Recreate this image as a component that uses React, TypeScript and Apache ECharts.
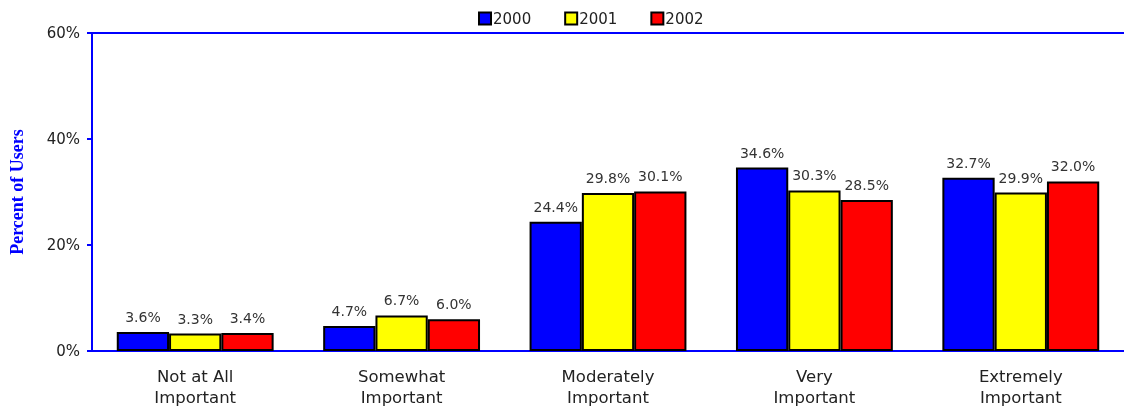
import React, { useEffect, useRef } from "react";
import * as echarts from "echarts";

const categories = ["Not at All\nImportant", "Somewhat\nImportant", "Moderately\nImportant", "Very\nImportant", "Extremely\nImportant"];
const seriesNames = ["2000", "2001", "2002"];
const values2000 = [3.6, 4.7, 24.4, 34.6, 32.7];
const values2001 = [3.3, 6.7, 29.8, 30.3, 29.9];
const values2002 = [3.4, 6.0, 30.1, 28.5, 32.0];
const colors = ["#0000FF", "#FFFF00", "#FF0000"];

const FONT = "DejaVu Sans";

export default function App() {
  const ref = useRef<HTMLDivElement>(null);
  useEffect(() => {
    if (!ref.current) return;
    const chart = echarts.init(ref.current, undefined, { renderer: "svg" });
    const all = [values2000, values2001, values2002];
    chart.setOption({
      animation: false,
      textStyle: { fontFamily: FONT },
      legend: {
        top: 6,
        left: 473,
        icon: "rect",
        itemWidth: 12,
        itemHeight: 12,
        itemGap: 33,
        itemStyle: { borderColor: "#000", borderWidth: 2 },
        textStyle: { fontSize: 15, color: "#222", fontFamily: FONT, padding: [0, 0, 0, -3] },
        data: seriesNames,
      },
      grid: { left: 92, right: 0, top: 33, bottom: 57, outerBoundsMode: "none", containLabel: false },
      xAxis: [
        {
          type: "category",
          data: categories,
          axisLine: { lineStyle: { color: "#0000FF", width: 2 } },
          axisTick: { show: false },
          axisLabel: { fontSize: 16.5, color: "#222", lineHeight: 21, margin: 15, fontFamily: FONT, interval: 0 },
        },
        {
          type: "category",
          position: "top",
          data: categories,
          axisLine: { show: true, lineStyle: { color: "#0000FF", width: 2 } },
          axisTick: { show: false },
          axisLabel: { show: false },
        },
      ],
      yAxis: {
        type: "value",
        min: 0,
        max: 60,
        interval: 20,
        name: "Percent of Users",
        nameLocation: "middle",
        nameGap: 66,
        nameTextStyle: { fontFamily: "Liberation Serif", fontWeight: "bold", fontSize: 18, color: "#0000FF" },
        axisLine: { show: true, lineStyle: { color: "#0000FF", width: 2 } },
        axisTick: { show: true, length: 5, lineStyle: { color: "#0000FF", width: 2 } },
        splitLine: { show: false },
        axisLabel: { formatter: "{value}%", fontSize: 15, color: "#222", margin: 12, fontFamily: FONT },
      },
      series: seriesNames.map((name, i) => ({
        name,
        type: "bar",
        data: all[i],
        xAxisIndex: 0,
        barGap: "0%",
        barCategoryGap: "24%",
        itemStyle: { color: colors[i], borderColor: "#000", borderWidth: 2 },
        label: {
          show: true,
          position: "top",
          distance: 8,
          fontSize: 14,
          color: "#333",
          fontFamily: FONT,
          formatter: (p: any) => Number(p.value).toFixed(1) + "%",
        },
      })),
    });
    return () => chart.dispose();
  }, []);
  return <div ref={ref} style={{ position: "fixed", left: 0, top: 0, width: 1124, height: 408 }} />;
}
